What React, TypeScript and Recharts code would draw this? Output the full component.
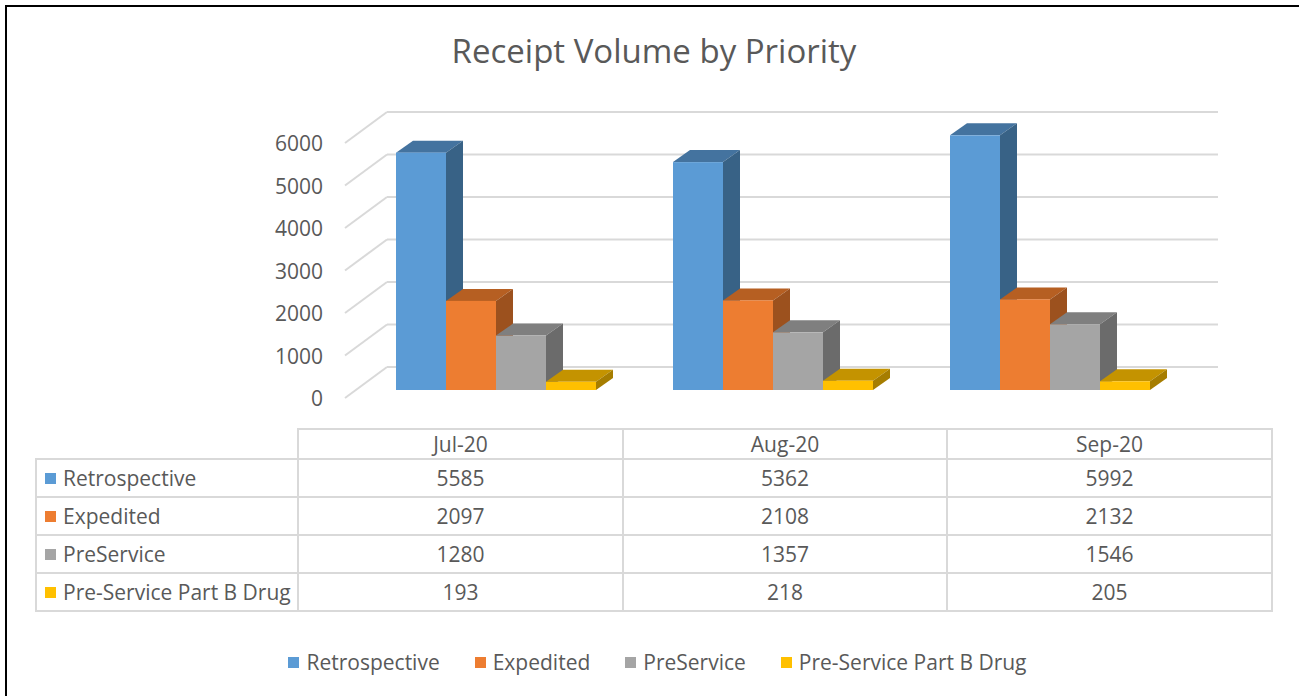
import { BarChart, Bar, XAxis, YAxis, ReferenceLine } from "recharts";

const months = ["Jul-20", "Aug-20", "Sep-20"];
const retrospective = [5585, 5362, 5992];
const expedited = [2097, 2108, 2132];
const preService = [1280, 1357, 1546];
const partBDrug = [193, 218, 205];
const yTicks = [0, 1000, 2000, 3000, 4000, 5000, 6000];

const SERIES = [
  { key: "retrospective", name: "Retrospective", values: retrospective, front: "#5B9BD5", top: "#44739F", side: "#386286" },
  { key: "expedited", name: "Expedited", values: expedited, front: "#ED7D31", top: "#B65F22", side: "#9C511E" },
  { key: "preService", name: "PreService", values: preService, front: "#A5A5A5", top: "#7F7F7F", side: "#6B6B6B" },
  { key: "partBDrug", name: "Pre-Service Part B Drug", values: partBDrug, front: "#FFC000", top: "#C49300", side: "#A67D00" },
];

const data = months.map((m, i) => {
  const row: Record<string, string | number> = { month: m };
  SERIES.forEach((s) => (row[s.key] = s.values[i]));
  return row;
});

const FONT = "'Open Sans', sans-serif";
const TEXT = "#595959";
const GRID = "#D9D9D9";
// fake perspective: bar depth and wall offsets (px)
const BAR_DX = 17;
const BAR_DY = -12;
const WALL_DX = 30;
const WALL_DY = -23;
const FLOOR_DX = -12;
const FLOOR_DY = 8;

function Bar3D(props: any) {
  const { x, y, width, height, colors } = props;
  if (!width || height == null) return null;
  const x2 = x + width;
  const y2 = y + height;
  return (
    <g>
      <polygon points={`${x},${y} ${x2},${y} ${x2 + BAR_DX},${y + BAR_DY} ${x + BAR_DX},${y + BAR_DY}`} fill={colors.top} />
      <polygon points={`${x2},${y} ${x2 + BAR_DX},${y + BAR_DY} ${x2 + BAR_DX},${y2 + BAR_DY} ${x2},${y2}`} fill={colors.side} />
      <rect x={x} y={y} width={width} height={height} fill={colors.front} />
    </g>
  );
}

function WallLine(props: any) {
  const { x1, y1, x2 } = props;
  return (
    <g>
      <line x1={x1 + WALL_DX} y1={y1 + WALL_DY} x2={x2 + WALL_DX} y2={y1 + WALL_DY} stroke={GRID} strokeWidth={2} />
      <line x1={x1 + FLOOR_DX} y1={y1 + FLOOR_DY} x2={x1 + WALL_DX} y2={y1 + WALL_DY} stroke={GRID} strokeWidth={2} />
    </g>
  );
}

function YTick(props: any) {
  const { x, y, payload } = props;
  return (
    <text x={x} y={y + FLOOR_DY} textAnchor="end" dominantBaseline="central" fill={TEXT} fontSize={21} fontFamily={FONT}>
      {payload.value}
    </text>
  );
}

const cell: React.CSSProperties = {
  border: `2px solid ${GRID}`,
  textAlign: "center",
  padding: 0,
};

function Swatch({ color }: { color: string }) {
  return <span style={{ display: "inline-block", width: 11, height: 11, background: color, marginRight: 7, flex: "none" }} />;
}

export default function App() {
  return (
    <div
      style={{
        position: "absolute",
        left: 0,
        top: 0,
        width: 1299,
        height: 696,
        overflow: "hidden",
        background: "#fff",
        fontFamily: FONT,
        color: TEXT,
      }}
    >
      <div style={{ position: "absolute", left: 5, top: 5, width: 1400, height: 800, border: "2px solid #000" }} />
      <div style={{ position: "absolute", left: 0, top: 28, width: 1308, textAlign: "center", fontSize: 33 }}>
        Receipt Volume by Priority
      </div>

      <div style={{ position: "absolute", left: 0, top: 0 }}>
        <BarChart width={1299} height={420} data={data} margin={{ top: 135, right: 111, bottom: 30, left: 297 }} barSize={50} barGap={0}>
          <XAxis dataKey="month" hide />
          <YAxis
            width={60}
            domain={[0, 6000]}
            ticks={yTicks}
            axisLine={false}
            tickLine={false}
            tickSize={0}
            tickMargin={34}
            tick={<YTick />}
          />
          {yTicks.map((t) => (
            <ReferenceLine key={t} y={t} shape={<WallLine />} zIndex={-100} />
          ))}
          {SERIES.map((s) => (
            <Bar key={s.key} dataKey={s.key} name={s.name} isAnimationActive={false} shape={(p: any) => <Bar3D {...p} colors={s} />} />
          ))}
        </BarChart>
      </div>

      <table
        style={{
          position: "absolute",
          left: 35,
          top: 428,
          borderCollapse: "collapse",
          fontSize: 21,
          color: TEXT,
          tableLayout: "fixed",
        }}
      >
        <colgroup>
          <col style={{ width: 262 }} />
          <col style={{ width: 325 }} />
          <col style={{ width: 324 }} />
          <col style={{ width: 325 }} />
        </colgroup>
        <tbody>
          <tr style={{ height: 29 }}>
            <td style={{ border: "none", padding: 0 }} />
            {months.map((m) => (
              <td key={m} style={cell}>
                {m}
              </td>
            ))}
          </tr>
          {SERIES.map((s) => (
            <tr key={s.key} style={{ height: 38 }}>
              <td style={{ ...cell, textAlign: "left", whiteSpace: "nowrap", paddingLeft: 8 }}>
                <div style={{ display: "flex", alignItems: "center" }}>
                  <Swatch color={s.front} />
                  {s.name}
                </div>
              </td>
              {s.values.map((v, i) => (
                <td key={i} style={cell}>
                  {v}
                </td>
              ))}
            </tr>
          ))}
        </tbody>
      </table>

      <div
        style={{
          position: "absolute",
          left: 0,
          top: 648,
          width: 1315,
          display: "flex",
          justifyContent: "center",
          gap: 35,
          fontSize: 21,
          lineHeight: "28px",
        }}
      >
        {SERIES.map((s) => (
          <div key={s.key} style={{ display: "flex", alignItems: "center" }}>
            <Swatch color={s.front} />
            {s.name}
          </div>
        ))}
      </div>
    </div>
  );
}
